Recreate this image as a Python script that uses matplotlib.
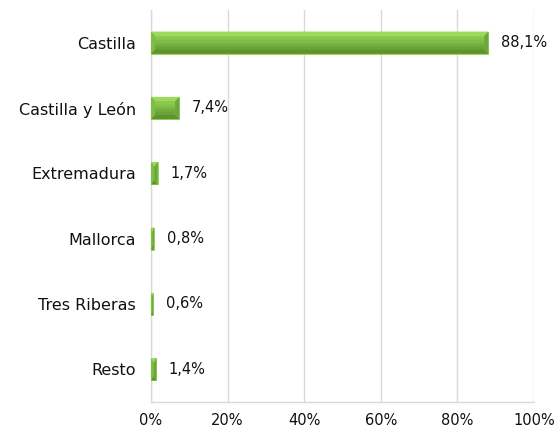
import numpy as np
import matplotlib
matplotlib.use("Agg")
import matplotlib.pyplot as plt
from matplotlib.patches import Polygon

regions = ["Castilla", "Castilla y León", "Extremadura", "Mallorca", "Tres Riberas", "Resto"]
shares = [88.1, 7.4, 1.7, 0.8, 0.6, 1.4]
labels = ["88,1%", "7,4%", "1,7%", "0,8%", "0,6%", "1,4%"]
xticks = [0, 20, 40, 60, 80, 100]

plt.rcParams['font.family'] = ['DejaVu Sans']

fig = plt.figure(figsize=(5.56, 4.34), dpi=100)
ax = fig.add_axes([151 / 556, 32 / 434, 383 / 556, 392 / 434])

y = np.arange(len(regions))
h = 0.34
bars = ax.barh(y, shares, height=h, color='#86C84A', edgecolor='#8FD051', linewidth=0.6, zorder=3)

# bevelled face drawn over each bar
bx, by = 1.1, 0.07
for rect in bars:
    x0, y0 = rect.get_x(), rect.get_y()
    w, hh = rect.get_width(), rect.get_height()
    x1, y1 = x0 + w, y0 + hh
    dx = min(bx, w / 2)
    # y axis inverted: y0 is the visual top
    top = [(x0, y0), (x1, y0), (x1 - dx, y0 + by), (x0 + dx, y0 + by)]
    bot = [(x0, y1), (x1, y1), (x1 - dx, y1 - by), (x0 + dx, y1 - by)]
    lft = [(x0, y0), (x0 + dx, y0 + by), (x0 + dx, y1 - by), (x0, y1)]
    rgt = [(x1, y0), (x1 - dx, y0 + by), (x1 - dx, y1 - by), (x1, y1)]
    for pts, c in [(top, '#9BDA5E'), (bot, '#5E932E'), (lft, '#7DBD45'), (rgt, '#6DA63B')]:
        ax.add_patch(Polygon(pts, closed=True, facecolor=c, edgecolor='none', zorder=4))
    # inner face gradient, light to dark
    n = 6
    ys = np.linspace(y0 + by, y1 - by, n + 1)
    cols = ['#8ACB4D', '#84C549', '#7DBC45', '#76B341', '#6FAA3D', '#69A23A']
    for k in range(n):
        ax.fill_between([x0 + dx, x1 - dx], ys[k], ys[k + 1], color=cols[k], linewidth=0, zorder=4)

for yi, v, lab in zip(y, shares, labels):
    ax.annotate(lab, (v, yi), xytext=(9, 0), textcoords='offset points',
                va='center', ha='left', fontsize=10.5, color='#111111')

ax.set_xlim(0, 100)
ax.set_ylim(len(regions) - 0.5, -0.5)
ax.set_xticks(xticks)
ax.set_xticklabels([f"{t}%" for t in xticks], fontsize=10.5)
ax.set_yticks(y)
ax.set_yticklabels(regions, fontsize=11.5)
ax.tick_params(axis='x', length=0, pad=8, colors='#111111')
ax.tick_params(axis='y', length=0, pad=11, colors='#111111')
ax.xaxis.grid(True, color='#d9d9d9', linewidth=1, zorder=0)
for s in ['top', 'right']:
    ax.spines[s].set_visible(False)
for s in ['left', 'bottom']:
    ax.spines[s].set_color('#d9d9d9')
    ax.spines[s].set_linewidth(1)

fig.savefig("out.png", dpi=100, facecolor='white')
